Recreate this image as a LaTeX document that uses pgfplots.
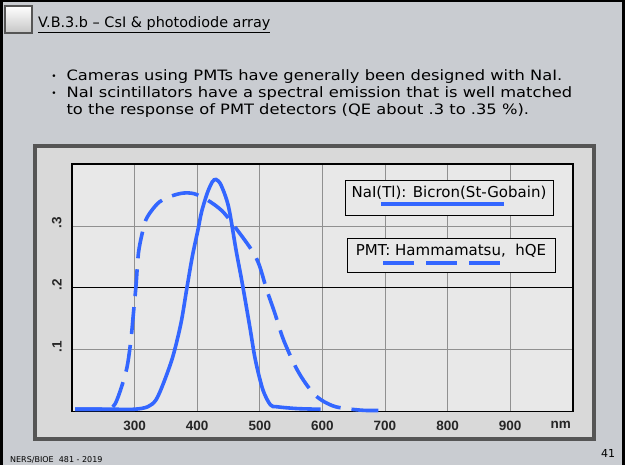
\documentclass[border=0pt]{standalone}
\usepackage{pgfplots}
\pgfplotsset{compat=1.18}
\usepackage{fontspec}
\setmainfont{DejaVu Sans}
\newfontfamily\bodyfont[FakeStretch=1.14]{DejaVu Sans}
\newfontfamily\tickfont{Liberation Sans}
\definecolor{slidebg}{HTML}{C9CCD1}
\definecolor{framefill}{HTML}{D9D9D9}
\definecolor{framegray}{HTML}{555555}
\definecolor{plotbg}{HTML}{E8E8E8}
\definecolor{gridgray}{HTML}{909090}
\definecolor{curveblue}{HTML}{3366FF}

\pgfplotstableread{
nm val
205 0.004
260 0.004
300 0.004
321 0.008
334 0.019
346 0.046
361 0.089
374 0.143
383 0.197
392 0.250
401 0.293
407 0.323
416 0.353
424 0.371
430 0.375
438 0.366
450 0.331
462 0.261
472 0.207
484 0.137
493 0.083
505 0.035
517 0.011
527 0.008
560 0.005
597 0.004
}\naitable

\pgfplotstableread{
nm val
205 0.004
240 0.004
260 0.005
269 0.013
279 0.040
288 0.073
294 0.116
298 0.159
302 0.202
306 0.256
312 0.288
318 0.310
328 0.326
340 0.339
358 0.348
377 0.353
395 0.352
416 0.342
440 0.324
462 0.296
487 0.261
499 0.237
511 0.197
524 0.159
536 0.121
548 0.092
560 0.067
573 0.046
588 0.027
603 0.016
621 0.008
646 0.004
670 0.002
698 0.002
}\pmttable

\begin{document}
\begin{tikzpicture}[x=1pt,y=1pt]
\fill[slidebg] (0,0) rectangle (625,-465);
\useasboundingbox (0,0) rectangle (625,-465);
\fill[black] (0,0) rectangle (625,-2);
\fill[black] (0,0) rectangle (3,-465);
\fill[black] (622,0) rectangle (625,-465);
% icon
\shade[top color=white, bottom color=gray!45] (5,-6) rectangle (32,-33);
\draw[framegray, line width=1.5] (5,-6) rectangle (32,-33);
% title
\node[anchor=base west, inner sep=0, font=\fontsize{14.4}{14.4}\selectfont] at (38,-28) {\underline{V.B.3.b – CsI \& photodiode array}};
% bullets
\begin{scope}[font=\bodyfont\fontsize{14.3}{14.3}\selectfont]
\node[anchor=base, inner sep=0, font=\fontsize{9}{9}\selectfont] at (54,-80) {•};
\node[anchor=base west, inner sep=0] at (66.4,-81) {Cameras using PMTs have generally been designed with NaI.};
\node[anchor=base, inner sep=0, font=\fontsize{9}{9}\selectfont] at (54,-97) {•};
\node[anchor=base west, inner sep=0] at (66.4,-98) {NaI scintillators have a spectral emission that is well matched};
\node[anchor=base west, inner sep=0] at (66.4,-115) {to the response of PMT detectors (QE about .3 to .35 \%).};
\end{scope}
% chart frame
\filldraw[fill=framefill, draw=framegray, line width=4] (35,-146) rectangle (594,-439);
\begin{axis}[
  at={(72.1pt,-411.7pt)}, anchor=south west,
  scale only axis, width=500.6pt, height=247.7pt,
  xmin=200, xmax=1000, ymin=0, ymax=0.4,
  axis background/.style={fill=plotbg},
  axis line style={black, line width=1.6pt},
  xtick={300,400,500,600,700,800,900},
  xticklabels={300,400,500,600,700,800,900},
  ytick={0.1,0.3}, yticklabels={.1,.3},
  extra y ticks={0.2}, extra y tick labels={.2},
  extra y tick style={major grid style={black, line width=0.9pt}},
  major tick length=0pt,
  grid=major,
  major grid style={gridgray, line width=0.7pt},
  ticklabel style={font=\tickfont\bfseries\fontsize{13.5}{13.5}\selectfont, text=black!85},
  xticklabel style={yshift=-6pt},
  yticklabel style={rotate=90, anchor=south, xshift=3pt, yshift=7pt},
  clip=false,
]
\addplot[curveblue, line width=3.6pt, smooth, tension=0.5] table[x=nm, y=val] {\naitable};
\addplot[curveblue, line width=3.6pt, smooth, tension=0.5, dash pattern=on 27pt off 11pt] table[x=nm, y=val] {\pmttable};
\node[anchor=north, font=\tickfont\bfseries\fontsize{13.5}{13.5}\selectfont, text=black!85, yshift=-6pt] at (axis cs:981,0) {nm};
\end{axis}
% legend boxes
\filldraw[fill=plotbg, draw=black, line width=1] (345,-180.7) rectangle (553,-215.3);
\node[anchor=base, inner sep=0, font=\fontsize{15}{15}\selectfont] at (449,-198) {NaI(Tl): Bicron(St-Gobain)};
\draw[curveblue, line width=3.5] (381,-204) -- (504,-204);
\filldraw[fill=plotbg, draw=black, line width=1] (347,-238.7) rectangle (555,-272.7);
\node[anchor=base, inner sep=0, font=\fontsize{15}{15}\selectfont] at (451,-256) {PMT: Hammamatsu,\ \ hQE};
\draw[curveblue, line width=3.5, dash pattern=on 31 off 12] (383,-263) -- (501,-263);
% footer
\node[anchor=base west, inner sep=0, font=\fontsize{8}{8}\selectfont] at (10,-463) {NERS/BIOE\ \ 481 - 2019};
\node[anchor=base, inner sep=0, font=\fontsize{11}{11}\selectfont] at (608,-458) {41};
\end{tikzpicture}
\end{document}
